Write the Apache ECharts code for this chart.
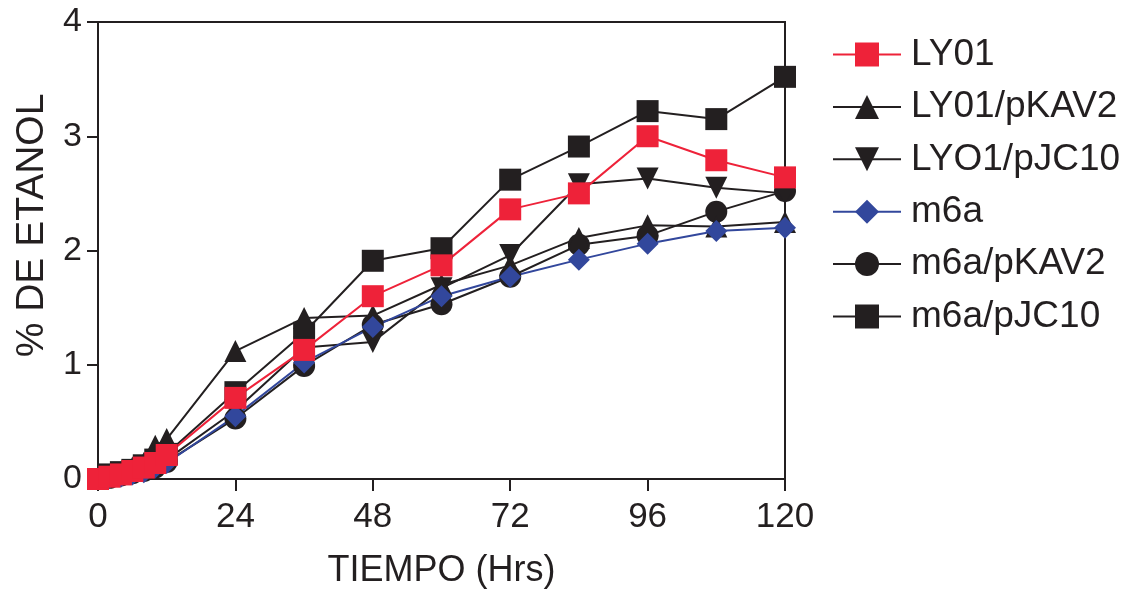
<!DOCTYPE html>
<html>
<head>
<meta charset="utf-8">
<script src="https://cdn.jsdelivr.net/npm/echarts@6/dist/echarts.min.js"></script>
<style>
html,body{margin:0;padding:0;background:#fff;}
#c{width:1131px;height:594px;}
</style>
</head>
<body>
<div id="c"></div>
<script>
const times = [0, 2, 4, 6, 8, 10, 12, 24, 36, 48, 60, 72, 84, 96, 108, 120];
const xTicks = [0, 24, 48, 72, 96, 120];
const yTicks = [0, 1, 2, 3, 4];
const seriesNames = ['LY01', 'LY01/pKAV2', 'LYO1/pJC10', 'm6a', 'm6a/pKAV2', 'm6a/pJC10'];
const ly01       = [0, 0.02, 0.04, 0.07, 0.10, 0.14, 0.21, 0.71, 1.13, 1.60, 1.87, 2.36, 2.50, 3.00, 2.79, 2.64];
const ly01pKAV2  = [0, 0.03, 0.06, 0.10, 0.14, 0.29, 0.35, 1.12, 1.41, 1.43, 1.70, 1.87, 2.11, 2.22, 2.21, 2.25];
const lyo1pJC10  = [0, 0.02, 0.04, 0.06, 0.09, 0.13, 0.17, 0.60, 1.15, 1.20, 1.67, 1.96, 2.58, 2.63, 2.55, 2.50];
const m6a        = [0, 0.01, 0.02, 0.04, 0.06, 0.10, 0.14, 0.55, 1.02, 1.33, 1.60, 1.77, 1.92, 2.06, 2.17, 2.20];
const m6apKAV2   = [0, 0.01, 0.03, 0.05, 0.07, 0.10, 0.15, 0.53, 0.99, 1.35, 1.53, 1.77, 2.05, 2.13, 2.34, 2.52];
const m6apJC10   = [0, 0.04, 0.06, 0.08, 0.12, 0.17, 0.22, 0.76, 1.28, 1.91, 2.02, 2.62, 2.91, 3.22, 3.15, 3.52];

const BLACK = '#231f20', RED = '#ee2239', BLUE = '#32479c';
const FONT = '"Liberation Sans", Arial, sans-serif';
const pair = arr => times.map((t, i) => [t, arr[i]]);

function mk(name, data, color, symbol, rotate) {
  return {
    name: name, type: 'line', data: pair(data),
    symbol: symbol, symbolSize: 22, symbolRotate: rotate || 0,
    lineStyle: {color: color, width: 2},
    itemStyle: {color: color, borderWidth: 0},
    emphasis: {disabled: true},
    animation: false
  };
}

const chart = echarts.init(document.getElementById('c'));
chart.setOption({
  backgroundColor: '#fff',
  animation: false,
  grid: {left: 98, top: 22, width: 687, height: 457, show: true, borderColor: BLACK, borderWidth: 2, backgroundColor: 'transparent'},
  legend: {
    orient: 'vertical', left: 832, top: 36, padding: 0,
    itemWidth: 68, itemHeight: 30, itemGap: 15.4,
    data: seriesNames,
    textStyle: {fontFamily: FONT, fontSize: 37, color: BLACK, padding: [0, 0, 0, 5]},
    selectedMode: false
  },
  xAxis: {
    type: 'value', min: 0, max: 120, interval: 24,
    name: 'TIEMPO (Hrs)', nameLocation: 'middle', nameGap: 74,
    nameTextStyle: {fontFamily: FONT, fontSize: 36, color: BLACK},
    axisLine: {show: true, lineStyle: {color: BLACK, width: 2}},
    axisTick: {show: true, length: 12, lineStyle: {color: BLACK, width: 2}},
    axisLabel: {fontFamily: FONT, fontSize: 35, color: BLACK, margin: 21,
      formatter: v => xTicks.includes(v) ? String(v) : ''},
    splitLine: {show: false}
  },
  yAxis: {
    type: 'value', min: 0, max: 4, interval: 1,
    name: '% DE ETANOL', nameLocation: 'middle', nameGap: 46,
    nameTextStyle: {fontFamily: FONT, fontSize: 39, color: BLACK, padding: [0, 0, 0, 50]},
    axisLine: {show: true, onZero: false, lineStyle: {color: BLACK, width: 2}},
    axisTick: {show: true, length: 11, lineStyle: {color: BLACK, width: 2}},
    axisLabel: {fontFamily: FONT, fontSize: 34, color: BLACK, margin: 16,
      formatter: v => yTicks.includes(v) ? String(v) : ''},
    splitLine: {show: false}
  },
  series: [
    mk('m6a/pJC10', m6apJC10, BLACK, 'rect'),
    mk('m6a/pKAV2', m6apKAV2, BLACK, 'circle'),
    mk('LYO1/pJC10', lyo1pJC10, BLACK, 'triangle', 180),
    mk('LY01/pKAV2', ly01pKAV2, BLACK, 'triangle'),
    mk('m6a', m6a, BLUE, 'diamond'),
    mk('LY01', ly01, RED, 'rect')
  ]
});
</script>
</body>
</html>
